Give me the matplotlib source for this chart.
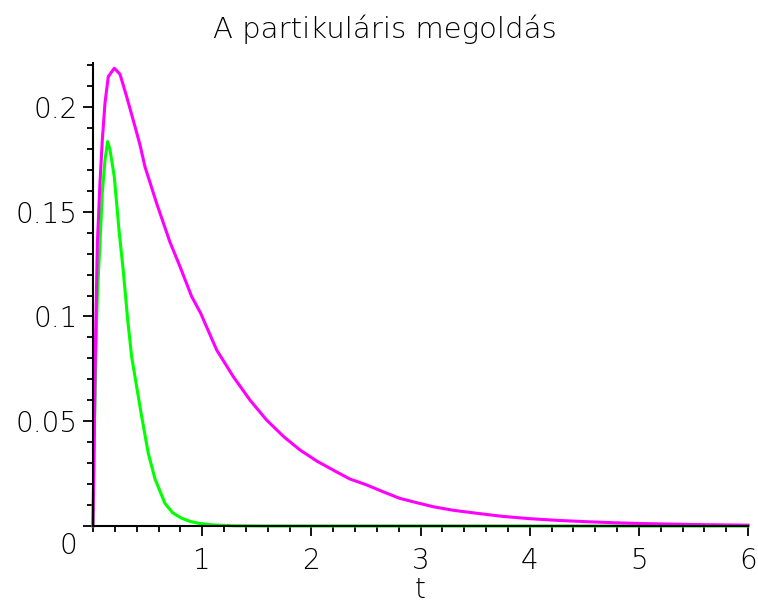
import numpy as np
import matplotlib
matplotlib.use("Agg")
import matplotlib.pyplot as plt
from matplotlib.ticker import MultipleLocator, FixedLocator
from matplotlib.transforms import ScaledTranslation

plt.rcParams['font.family'] = ['DejaVu Sans']

## magenta curve
t_magenta = [0, 0.01, 0.025, 0.04, 0.064, 0.085, 0.11, 0.14, 0.195, 0.247,
             0.308, 0.385, 0.43, 0.476, 0.583, 0.705, 0.797, 0.904, 0.985, 1.133,
             1.285, 1.438, 1.59, 1.75, 1.896, 2.05, 2.2, 2.35, 2.507, 2.65,
             2.81, 2.96, 3.116, 3.3, 3.51, 3.75, 4.0, 4.25, 4.5, 4.75,
             5.0, 5.5, 6.0]
y_magenta = [0, 0.04, 0.094, 0.135, 0.164, 0.184, 0.202, 0.2145, 0.2185, 0.2157,
             0.205, 0.1906, 0.182, 0.1715, 0.154, 0.1355, 0.1238, 0.1095, 0.1017, 0.084,
             0.0713, 0.0601, 0.0506, 0.0425, 0.0363, 0.031, 0.0267, 0.0225, 0.0196, 0.0165,
             0.0132, 0.0112, 0.0092, 0.0075, 0.0061, 0.0046, 0.0035, 0.0027, 0.0021, 0.0016,
             0.0012, 0.0007, 0.0004]

## green curve
t_green = [0, 0.01, 0.025, 0.04, 0.064, 0.085, 0.11, 0.134, 0.156, 0.195,
           0.238, 0.277, 0.318, 0.354, 0.4, 0.446, 0.507, 0.568, 0.659, 0.73,
           0.812, 0.89, 0.965, 1.1, 1.3, 1.6, 2.0, 3.0, 4.0, 5.0, 6.0]
y_green = [0, 0.035, 0.08, 0.11, 0.135, 0.159, 0.1747, 0.1835, 0.1795, 0.1667,
           0.1413, 0.122, 0.0983, 0.0808, 0.0665, 0.0522, 0.0345, 0.0225, 0.0108, 0.0063,
           0.0037, 0.0022, 0.0013, 0.0005, 0.0001, 0, 0, 0, 0, 0, 0]

x_ticks = [1, 2, 3, 4, 5, 6]
y_ticks = [0, 0.05, 0.1, 0.15, 0.2]
y_tick_labels = ['0', '0.05', '0.1', '0.15', '0.2']

fig = plt.figure(figsize=(7.58, 6.06), dpi=100)
ax = fig.add_axes([93 / 758, 80 / 606, 655 / 758, 463 / 606])

ax.plot(t_green, y_green, color='#00ff00', lw=2.2, clip_on=False, zorder=2)
ax.plot(t_magenta, y_magenta, color='#ff00ff', lw=2.2, clip_on=False, zorder=2.1)

ax.set_xlim(0, 6)
ax.set_ylim(0, 0.221)

for side in ['top', 'right']:
    ax.spines[side].set_visible(False)
for side in ['left', 'bottom']:
    ax.spines[side].set_linewidth(1.5)
    ax.spines[side].set_zorder(3)

ax.xaxis.set_major_locator(FixedLocator(x_ticks))
ax.xaxis.set_minor_locator(MultipleLocator(0.2))
ax.yaxis.set_major_locator(FixedLocator(y_ticks))
ax.yaxis.set_minor_locator(MultipleLocator(0.01))
ax.set_yticklabels(y_tick_labels)

ax.tick_params(which='major', direction='out', length=7, width=1.3,
               labelsize=20, colors='black', labelcolor='black')
ax.tick_params(which='minor', direction='out', length=4.5, width=1.3)
ax.tick_params(axis='x', which='major', pad=8)
ax.tick_params(axis='y', which='major', pad=4)
for lbl in ax.get_xticklabels() + ax.get_yticklabels():
    lbl.set_fontweight('light')

# the origin label sits below the axis line
lbl0 = ax.get_yticklabels()[0]
lbl0.set_transform(lbl0.get_transform() + ScaledTranslation(0, -12 / 72, fig.dpi_scale_trans))

ax.set_xlabel('t', fontsize=20, color='black', labelpad=1, fontweight='light')
fig.text(385 / 758, 1 - 29 / 606, 'A partikuláris megoldás', fontsize=21,
         color='black', ha='center', va='center', fontweight='light')

fig.savefig('out.png', dpi=100)
